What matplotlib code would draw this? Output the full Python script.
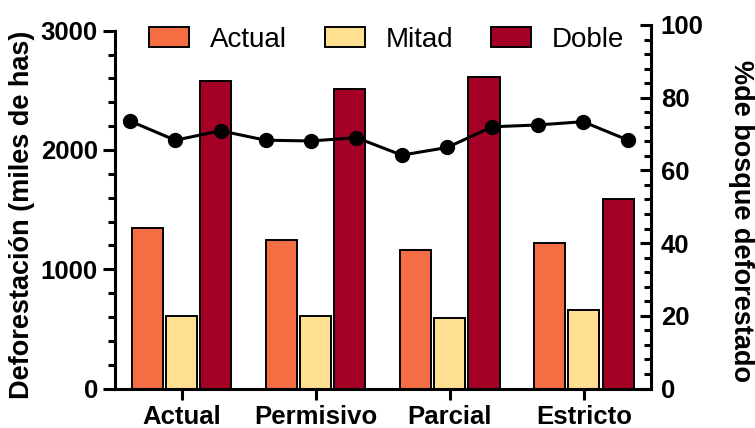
import matplotlib
matplotlib.use("Agg")
import matplotlib.pyplot as plt
import numpy as np
from matplotlib.ticker import MultipleLocator

plt.rcParams['font.family'] = ['Liberation Sans', 'DejaVu Sans']

categories = ["Actual", "Permisivo", "Parcial", "Estricto"]
series_names = ["Actual", "Mitad", "Doble"]
actual = [1345, 1241, 1165, 1224]
mitad = [607, 604, 590, 654]
doble = [2581, 2511, 2614, 1590]
pct_deforestado = [73.6, 68.3, 70.9, 68.3, 68.1, 69.0, 64.2, 66.3, 72.0, 72.5, 73.4, 68.3]
colors = ["#F46D43", "#FEE090", "#A50026"]

W, H = 755, 428
fig = plt.figure(figsize=(W / 100, H / 100), dpi=100)

left_px, right_px = 114.5, 651
bottom_px, top_px = 388.5, 30.7
top2_px = 25

ax = fig.add_axes([left_px / W, 1 - bottom_px / H, (right_px - left_px) / W, (bottom_px - top_px) / H])
ax2 = fig.add_axes([left_px / W, 1 - bottom_px / H, (right_px - left_px) / W, (bottom_px - top2_px) / H])
ax2.patch.set_visible(False)

tick_fs = 18.5
lw_spine = 2.2
x = np.arange(len(categories))
offsets = [-0.255, 0.0, 0.255]
handles = []
for vals, off, col, name in zip([actual, mitad, doble], offsets, colors, series_names):
    b = ax.bar(x + off, vals, width=0.232, color=col, edgecolor='black', linewidth=1.4, label=name, zorder=2)
    handles.append(b)

ax.set_xlim(-0.5, 3.5)
ax.set_ylim(0, 3000)
ax.set_xticks(x)
ax.set_xticklabels(categories, fontsize=tick_fs, fontweight='bold')
ax.set_yticks([0, 1000, 2000, 3000])
ax.set_yticklabels(["0", "1000", "2000", "3000"], fontsize=tick_fs, fontweight='bold')
ax.yaxis.set_minor_locator(MultipleLocator(200))
ax.tick_params(axis='y', which='major', direction='out', length=9, width=lw_spine, pad=3)
ax.tick_params(axis='y', which='minor', direction='out', length=5, width=lw_spine)
ax.tick_params(axis='x', which='major', direction='out', length=8, width=lw_spine, pad=4.2)
for s in ['top', 'right']:
    ax.spines[s].set_visible(False)
for s in ['left', 'bottom']:
    ax.spines[s].set_linewidth(lw_spine)

# right axis with line
xi = np.arange(len(pct_deforestado))
ax2.plot(xi, pct_deforestado, color='black', linewidth=2.2, marker='o', markersize=10, zorder=3)
ax2.set_xlim(-0.34, 11.5)
ax2.set_ylim(0, 100)
ax2.set_xticks([])
for s in ['top', 'left', 'bottom']:
    ax2.spines[s].set_visible(False)
ax2.spines['right'].set_linewidth(lw_spine)
ax2.yaxis.tick_right()
ax2.set_yticks([0, 20, 40, 60, 80, 100])
ax2.set_yticklabels(["0", "20", "40", "60", "80", "100"], fontsize=tick_fs, fontweight='bold')
ax2.yaxis.set_minor_locator(MultipleLocator(4))
ax2.tick_params(axis='y', which='major', direction='in', length=8, width=lw_spine, pad=7)
ax2.tick_params(axis='y', which='minor', direction='in', length=5, width=lw_spine)

fig.text(22.5 / W, 0.4977, "Deforestación (miles de has)", rotation=90, ha='center', va='center',
         fontsize=19.5, fontweight='bold')
fig.text(740.5 / W, 0.483, "%de bosque deforestado", rotation=270, ha='center', va='center',
         fontsize=19.5, fontweight='bold')

fig.legend(handles=handles, labels=series_names, loc='center', bbox_to_anchor=(386.8 / W, 1 - 40 / H),
           ncol=3, frameon=False, fontsize=20, handlelength=1.45, handleheight=0.75,
           handletextpad=0.75, columnspacing=1.35, borderpad=0.2)

fig.savefig("out.png", dpi=100)
